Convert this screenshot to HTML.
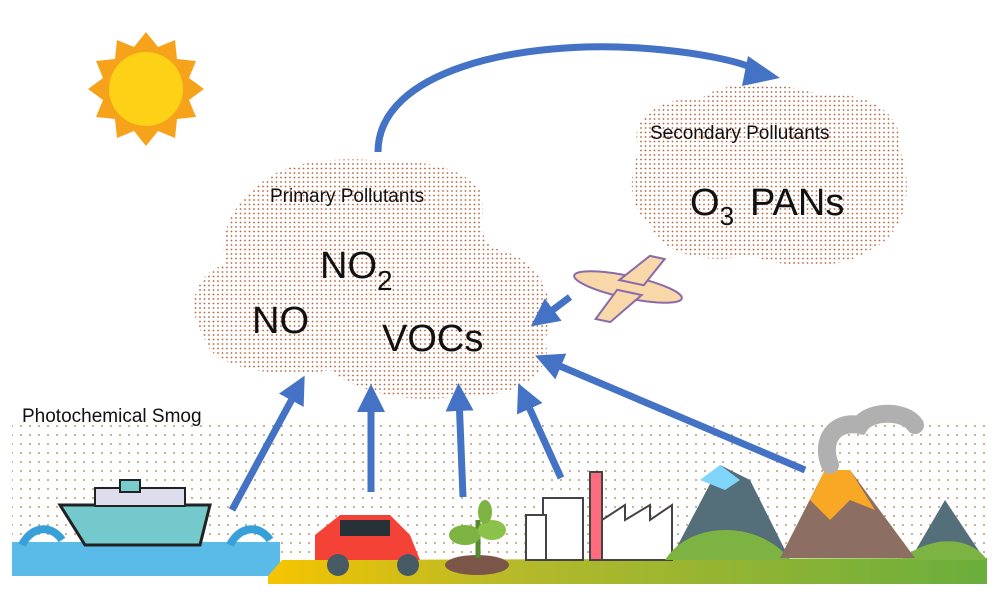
<!DOCTYPE html>
<html><head><meta charset="utf-8"><style>
html,body{margin:0;padding:0;background:#fff;}
svg{display:block;font-family:"Liberation Sans",sans-serif;}
</style></head><body>
<svg width="1002" height="606" viewBox="0 0 1002 606">
<defs>
<pattern id="d" width="4.5" height="4.5" patternUnits="userSpaceOnUse"><circle cx="2" cy="2" r="0.9" fill="#b8643a"/></pattern>
<pattern id="g" width="9" height="9" patternUnits="userSpaceOnUse"><circle cx="3" cy="3" r="0.9" fill="#a08040"/></pattern>
<marker id="a" markerWidth="4" markerHeight="4" refX="2" refY="2" orient="auto" markerUnits="strokeWidth"><path d="M0,0L4,2L0,4z" fill="#4472c4"/></marker>
<linearGradient id="gr" x1="0" x2="1"><stop offset="0" stop-color="#f6c400"/><stop offset="0.35" stop-color="#b5b92a"/><stop offset="1" stop-color="#6aae3c"/></linearGradient>
</defs>
<rect x="12" y="425" width="975" height="135" fill="url(#g)"/>
<g transform="translate(146,89)">
<polygon fill="#f7a21b" points="0,-57 12,-42 29,-49 31,-30 50,-28 43,-11 58,0 43,11 50,28 31,30 29,49 12,42 0,57 -12,42 -29,49 -31,30 -50,28 -43,11 -58,0 -43,-11 -50,-28 -31,-30 -29,-49 -12,-42"/>
<circle r="37" fill="#fcd116"/>
</g>
<path fill="url(#d)" d="M200,330 C185,300 200,270 225,265 C215,220 250,190 265,180 C290,160 340,158 370,160 C420,160 460,165 480,190 C490,215 470,240 500,250 C540,260 560,300 545,340 C555,370 520,400 460,395 C420,405 360,395 330,370 C290,378 230,372 210,350 Z"/>
<path fill="url(#d)" d="M640,150 C625,120 660,95 700,100 C720,80 780,80 820,95 C870,90 905,115 900,150 C915,190 905,235 870,250 C840,272 780,268 750,255 C710,265 660,255 650,225 C625,205 630,170 640,150 Z"/>
<text x="270" y="202" font-size="19" fill="#111">Primary Pollutants</text>
<text x="320" y="278" font-size="38" fill="#111">NO<tspan font-size="28" dy="12">2</tspan></text>
<text x="252" y="333" font-size="38" fill="#111">NO</text>
<text x="382" y="351" font-size="38" fill="#111">VOCs</text>
<text x="650" y="139" font-size="19" fill="#111">Secondary Pollutants</text>
<text x="690" y="215" font-size="38" fill="#111">O<tspan font-size="26" dy="10">3</tspan><tspan dy="-10" dx="16">PANs</tspan></text>
<text x="22" y="422" font-size="19" fill="#111">Photochemical Smog</text>
<g stroke="#4472c4" stroke-width="7" fill="none" stroke-linecap="butt">
<path d="M378,152 C378,70 520,40 640,48 C700,52 740,62 752,68"/>
<line x1="570" y1="297" x2="542" y2="318" marker-end="url(#a)"/>
<line x1="805" y1="470" x2="548" y2="361" marker-end="url(#a)"/>
<line x1="232" y1="510" x2="298" y2="388" marker-end="url(#a)"/>
<line x1="371" y1="492" x2="371" y2="398" marker-end="url(#a)"/>
<line x1="463" y1="497" x2="459" y2="397" marker-end="url(#a)"/>
<line x1="561" y1="478" x2="524" y2="396" marker-end="url(#a)"/>
</g>
<polygon fill="#4472c4" points="748,56 780,78 742,86"/>
<g transform="translate(628,287) rotate(12)">
<ellipse cx="0" cy="0" rx="55" ry="11" fill="#f8d7a8" stroke="#8a6aa8" stroke-width="2"/>
<polygon points="-10,-5 15,-5 30,-35 15,-35" fill="#f8d7a8" stroke="#8a6aa8" stroke-width="2"/>
<polygon points="-10,5 15,5 -10,38 -25,38" fill="#f8d7a8" stroke="#8a6aa8" stroke-width="2"/>
</g>
<rect x="12" y="542" width="268" height="34" fill="#5bbbe8"/>
<path d="M22,545 c10,-20 30,-20 40,-5 M230,545 c10,-20 30,-20 40,-5" stroke="#38a0d8" stroke-width="8" fill="none"/>
<path d="M268,576 L282,560 L987,558 L987,584 L268,584 Z" fill="url(#gr)"/>
<path d="M60,505 L210,505 L200,545 L85,545 Z" fill="#73c9cc" stroke="#222" stroke-width="3"/>
<rect x="95" y="488" width="90" height="18" fill="#dde" stroke="#222" stroke-width="2"/>
<rect x="120" y="480" width="20" height="12" fill="#7cc" stroke="#222" stroke-width="2"/>
<path d="M315,560 L315,535 L340,515 L390,515 L410,535 L420,560 Z" fill="#f44336"/>
<rect x="340" y="520" width="50" height="16" fill="#263238"/>
<circle cx="338" cy="565" r="11" fill="#455a64"/><circle cx="408" cy="565" r="11" fill="#455a64"/>
<ellipse cx="477" cy="565" rx="32" ry="10" fill="#7b5548"/>
<path d="M478,558 L478,520" stroke="#558b2f" stroke-width="5"/>
<ellipse cx="465" cy="535" rx="16" ry="10" fill="#7cb342"/><ellipse cx="492" cy="530" rx="14" ry="10" fill="#8bc34a"/><ellipse cx="485" cy="512" rx="7" ry="12" fill="#7cb342"/>
<rect x="543" y="498" width="40" height="62" fill="#fff" stroke="#444" stroke-width="2"/>
<rect x="526" y="515" width="20" height="45" fill="#fff" stroke="#444" stroke-width="2"/>
<rect x="590" y="472" width="12" height="88" fill="#ff6b7f" stroke="#444" stroke-width="2"/>
<path d="M602,560 L602,520 L625,505 L625,520 L650,505 L650,520 L672,505 L672,560 Z" fill="#fff" stroke="#444" stroke-width="2"/>
<polygon points="670,560 720,465 750,480 790,560" fill="#546e7a"/>
<polygon points="700,480 720,465 740,480 725,490" fill="#81d4fa"/>
<path d="M665,560 C690,520 760,520 790,560 Z" fill="#7cb342"/>
<polygon points="910,560 945,500 985,560" fill="#546e7a"/>
<path d="M900,560 C930,535 970,535 987,560 Z" fill="#7cb342"/>
<polygon points="780,558 825,470 850,470 915,558" fill="#8d6e63"/>
<polygon points="810,500 825,470 850,470 875,510 850,500 830,520" fill="#f9a825"/>
<path d="M830,465 C820,440 835,420 860,425 C870,410 905,410 915,425" stroke="#b0b0b0" stroke-width="18" fill="none" stroke-linecap="round"/>
</svg>
</body></html>
